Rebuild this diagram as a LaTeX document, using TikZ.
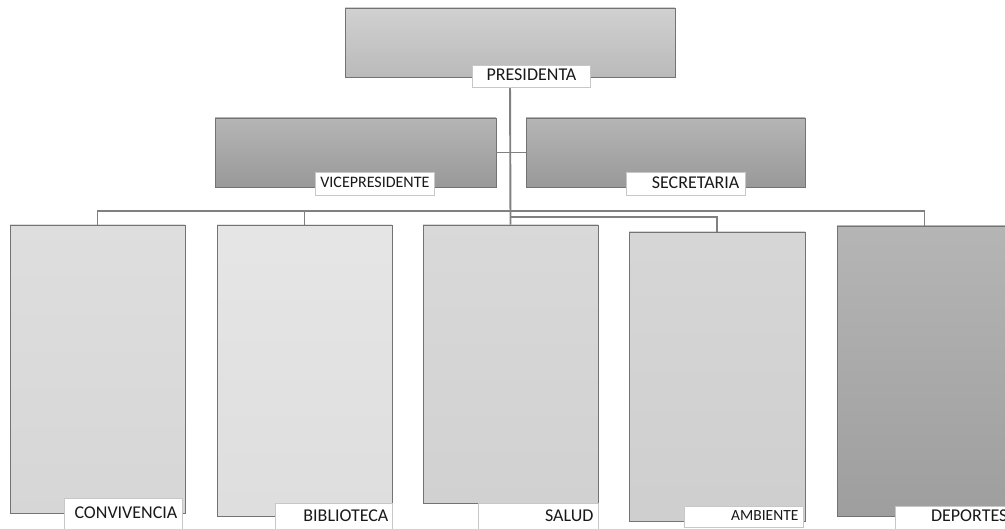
\documentclass[tikz,border=0pt]{standalone}
\usepackage{fontspec}
\setmainfont{Carlito}
\definecolor{presTop}{gray}{0.82}
\definecolor{presBot}{gray}{0.73}
\definecolor{vpTop}{gray}{0.71}
\definecolor{vpBot}{gray}{0.60}
\definecolor{depTop}{gray}{0.71}
\definecolor{depBot}{gray}{0.62}
\tikzset{
  box/.style={draw=black!55, line width=0.8pt, inner sep=0pt},
  conn/.style={draw=black!50, line width=1.9pt},
  lab/.style={draw=black!22, fill=white, line width=0.8pt, anchor=north west,
    inner xsep=5pt, inner ysep=0pt, align=right, text=black!90,
    font=\fontsize{18}{18}\selectfont},
}
\begin{document}
\begin{tikzpicture}[x=1pt,y=-1pt]
\useasboundingbox (0,0) rectangle (1005,529);
%\draw[help lines,step=50] (0,0) grid (1005,529);

% cajas
\node [box, minimum width=330pt, minimum height=69pt, top color=presTop, bottom color=presBot] (pres) at (510,42.5) {};
\node [box, minimum width=281pt, minimum height=69pt, top color=vpTop, bottom color=vpBot] (vice) at (355.5,152.5) {};
\node [box, minimum width=279pt, minimum height=69pt, top color=vpTop, bottom color=vpBot] (secr) at (665.5,152.5) {};
\node [box, minimum width=175pt, minimum height=288pt, top color=black!13, bottom color=black!16] (conv) at (97.5,369) {};
\node [box, minimum width=175pt, minimum height=291pt, top color=black!10, bottom color=black!13] (bibl) at (304.5,370.5) {};
\node [box, minimum width=175pt, minimum height=278pt, top color=black!15, bottom color=black!18] (salud) at (510.5,364) {};
\node [box, minimum width=176pt, minimum height=289pt, top color=black!16, bottom color=black!19] (amb) at (717,376.5) {};
\node [box, minimum width=175pt, minimum height=290pt, top color=depTop, bottom color=depBot] (dep) at (924.5,371) {};

% conectores
\coordinate (bus) at (510,211);
\coordinate (bus2) at (510,217);
\draw [conn] (pres.south) -- (salud.north);
\draw [conn] (vice.east) -- (secr.west);
\draw [conn] (conv.north) -- (conv.north |- bus) -- (dep.north |- bus) -- (dep.north);
\draw [conn] (bibl.north) -- (bibl.north |- bus);
\draw [conn] (salud.north |- bus2) -| (amb.north);

% etiquetas
\node [lab, align=center, inner xsep=4pt, text width=110pt, text height=15pt, text depth=7pt] (presLab) at (472,65) {PRESIDENTA};
\node [lab, align=center, inner xsep=4pt, text width=111pt, text height=15pt, text depth=8pt, font=\fontsize{16}{16}\selectfont] (viceLab) at (315,172) {VICEPRESIDENTE};
\node [lab, inner xsep=6pt, text width=107pt, text height=16pt, text depth=7pt] (secrLab) at (626,172) {SECRETARIA};
\node [lab, text width=108pt, text height=20pt, text depth=16pt] (convLab) at (64,498) {CONVIVENCIA};
\node [lab, inner xsep=4pt, text width=109pt, text height=18pt, text depth=14pt] (biblLab) at (275,503) {BIBLIOTECA};
\node [lab, text width=110pt, text height=18pt, text depth=14pt] (saludLab) at (478,503) {SALUD};
\node [lab, text width=109pt, text height=14pt, text depth=7pt, font=\fontsize{15.5}{15.5}\selectfont] (ambLab) at (684,506) {AMBIENTE};
\node [lab, text width=107pt, text height=15pt, text depth=14pt] (depLab) at (895,506) {DEPORTES};
\end{tikzpicture}
\end{document}
